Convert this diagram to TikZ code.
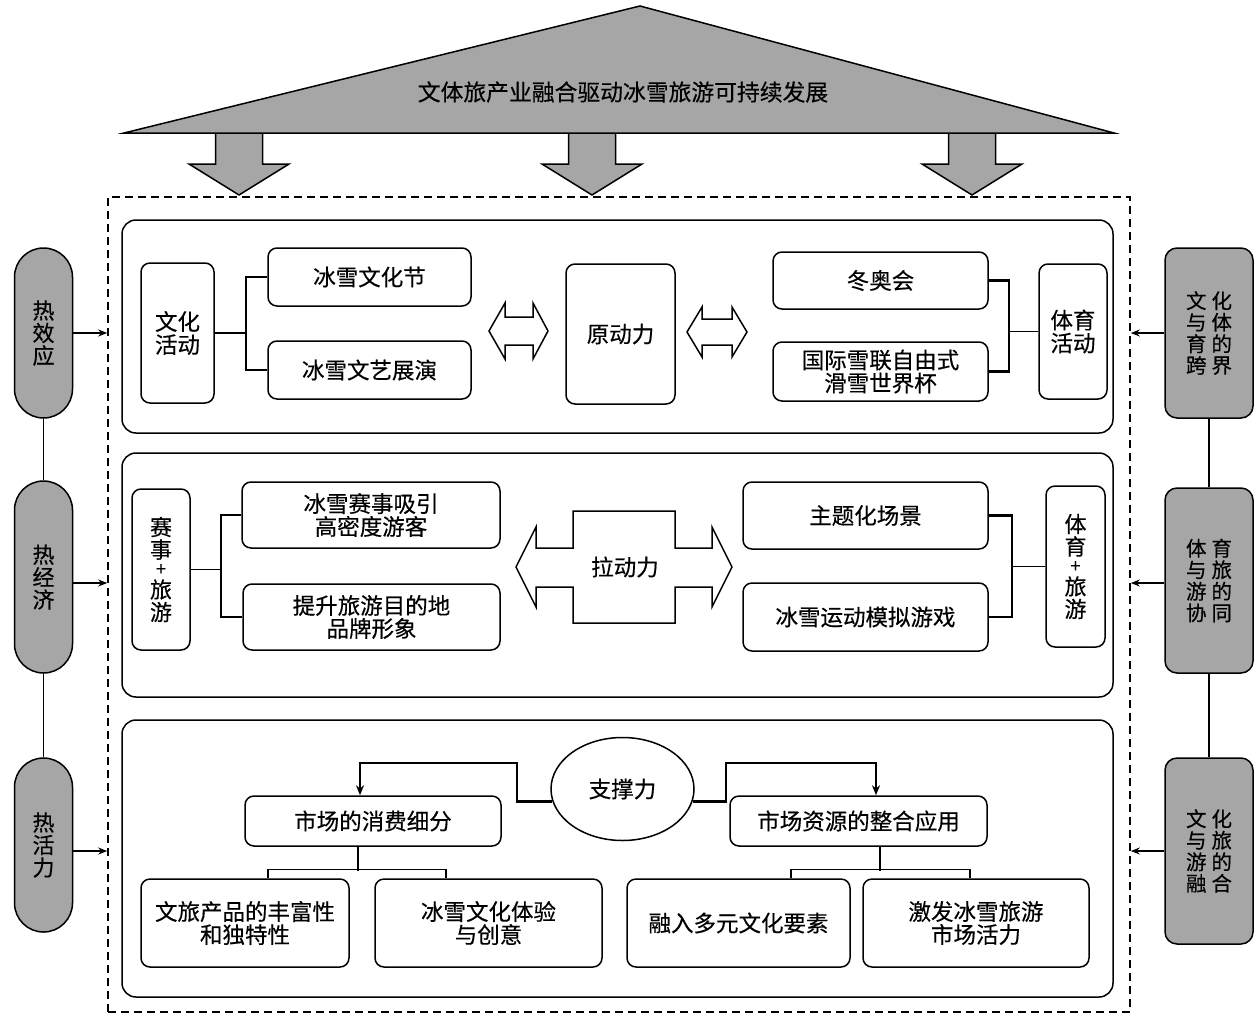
\documentclass[tikz,border=0pt]{standalone}
\usepackage{fontspec}
\setmainfont{Noto Sans CJK SC}[FakeBold=0.35]
\usetikzlibrary{arrows.meta,shapes.geometric}
\definecolor{fillgray}{RGB}{166,166,166}
\newcommand{\plussign}{{\fontsize{18}{18}\selectfont+}}
\begin{document}
\begin{tikzpicture}[x=1pt,y=-1pt,
  every node/.style={font=\fontsize{22.5}{24}\selectfont, align=center, inner sep=0pt},
  two/.style={font=\fontsize{22.5}{23}\selectfont},
  vt/.style={font=\fontsize{22}{22.5}\selectfont},
  bx/.style={draw, line width=1.5pt, rounded corners=9pt, fill=white},
  panel/.style={draw, line width=1.5pt, rounded corners=14pt},
  gbx/.style={draw, line width=1.5pt, fill=fillgray},
  ln/.style={line width=1.5pt},
  brk/.style={line width=2.4pt},
  arr/.style={line width=1.5pt, -{Stealth[length=9pt,width=7pt]}},
  blk/.style={draw, line width=1.5pt, line join=miter},
]
\useasboundingbox (0,0) rectangle (1260,1017);

% ---------- top triangle and block arrows ----------
\foreach \c in {239,592,972}{
  \draw[blk, fill=fillgray] (\c-23.5,133) -- (\c-23.5,164) -- (\c-50,164) -- (\c,195)
     -- (\c+50,164) -- (\c+23.5,164) -- (\c+23.5,133) -- cycle;
}
\draw[blk, fill=fillgray] (124,133) -- (640,6) -- (1114,133) -- cycle;
\node[font=\fontsize{22.8}{24}\selectfont] (title) at (623,92) {文体旅产业融合驱动冰雪旅游可持续发展};

% ---------- outer dashed box ----------
\node[draw, line width=1.6pt, dash pattern=on 8pt off 5pt, minimum width=1022pt, minimum height=815pt] (outer) at (619,604.5) {};

% ---------- panels ----------
\node[panel, minimum width=991pt, minimum height=213pt] (p1) at (617.5,326.5) {};
\node[panel, minimum width=991pt, minimum height=244pt] (p2) at (617.5,575) {};
\node[panel, minimum width=991pt, minimum height=277pt] (p3) at (617.5,858.5) {};

% ---------- panel 1 ----------
\node[bx, two, minimum width=73pt, minimum height=140pt] (whd) at (177.5,333) {文化\\活动};
\node[bx, minimum width=203pt, minimum height=58pt] (b11) at (369.5,277) {冰雪文化节};
\node[bx, minimum width=203pt, minimum height=58pt] (b12) at (369.5,370) {冰雪文艺展演};
\node[bx, minimum width=109pt, minimum height=140pt] (ydl) at (620.5,334) {原动力};
\node[bx, minimum width=215pt, minimum height=57pt] (b13) at (880.5,280.5) {冬奥会};
\node[bx, two, minimum width=215pt, minimum height=59pt] (b14) at (880.5,371.5) {国际雪联自由式\\滑雪世界杯};
\node[bx, two, minimum width=68pt, minimum height=135pt] (tyhd) at (1073,331.5) {体育\\活动};

\coordinate (j1) at (246,333);
\draw[ln] (whd.east) -- (j1);
\draw[brk] (b11.west) -| (j1) |- (b12.west);
\coordinate (j4) at (1009,331.5);
\draw[ln] (tyhd.west) -- (j4);
\draw[brk] (b13.east) -| (j4) |- (b14.east);

% open double arrows
\draw[blk, fill=white] (489,331) -- (505,303) -- (505,317) -- (533,317) -- (533,303) -- (548,331)
  -- (533,359) -- (533,345) -- (505,345) -- (505,359) -- cycle;
\draw[blk, fill=white] (687,332) -- (702,307) -- (702,319) -- (732,319) -- (732,307) -- (747,332)
  -- (732,357) -- (732,345) -- (702,345) -- (702,357) -- cycle;

% ---------- panel 2 ----------
\node[bx, vt, minimum width=58pt, minimum height=161pt] (ssly) at (161,569.5) {赛\\事\\[-5pt]\plussign\\旅\\游};
\node[bx, two, minimum width=258pt, minimum height=66pt] (b21) at (371,515) {冰雪赛事吸引\\高密度游客};
\node[bx, two, minimum width=257pt, minimum height=66pt] (b22) at (371.5,617) {提升旅游目的地\\品牌形象};
\node[bx, minimum width=245pt, minimum height=67pt] (b23) at (865.5,515.5) {主题化场景};
\node[bx, minimum width=245pt, minimum height=68pt] (b24) at (865.5,617) {冰雪运动模拟游戏};
\node[bx, vt, minimum width=59pt, minimum height=161pt] (tyly) at (1075.5,566.5) {体\\育\\[-5pt]\plussign\\旅\\游};

\coordinate (j2) at (221,569.5);
\draw[ln] (ssly.east) -- (j2);
\draw[brk] (b21.west) -| (j2) |- (b22.west);
\coordinate (j3) at (1012,566.5);
\draw[ln] (tyly.west) -- (j3);
\draw[brk] (b23.east) -| (j3) |- (b24.east);

% pulling double arrow
\draw[blk, fill=white] (516,567) -- (536,527) -- (536,548) -- (573,548) -- (573,511) -- (675,511)
  -- (675,548) -- (712,548) -- (712,527) -- (732,567) -- (712,607) -- (712,587) -- (675,587)
  -- (675,623) -- (573,623) -- (573,587) -- (536,587) -- (536,607) -- cycle;
\node (ldl) at (625,567) {拉动力};

% ---------- panel 3 ----------
\node[draw, ellipse, line width=1.5pt, minimum width=143pt, minimum height=103pt] (zcl) at (622.5,789) {支撑力};
\node[bx, minimum width=256pt, minimum height=50pt] (b31) at (373,821) {市场的消费细分};
\node[bx, minimum width=257pt, minimum height=50pt] (b32) at (858.5,821) {市场资源的整合应用};
\node[bx, two, minimum width=208pt, minimum height=88pt] (b33) at (245,923) {文旅产品的丰富性\\和独特性};
\node[bx, two, minimum width=227pt, minimum height=88pt] (b34) at (488.5,923) {冰雪文化体验\\与创意};
\node[bx, minimum width=223pt, minimum height=88pt] (b35) at (738.5,923) {融入多元文化要素};
\node[bx, two, minimum width=226pt, minimum height=88pt] (b36) at (976,923) {激发冰雪旅游\\市场活力};

\coordinate (c1) at (517,763);
\coordinate (c2) at (726,763);
\draw[brk, -{Stealth[length=10pt,width=8pt]}] (zcl.190) -| (c1) -| ([xshift=-13pt]b31.north);
\draw[brk, -{Stealth[length=10pt,width=8pt]}] (zcl.350) -| (c2) -| ([xshift=17.5pt]b32.north);

\draw[ln] ([xshift=-15pt]b31.south) -- ++(0,24);
\draw[ln] ([xshift=23pt]b33.north) -- ++(0,-9) -| ([xshift=-42.5pt]b34.north);
\draw[ln] ([xshift=21.5pt]b32.south) -- ++(0,24);
\draw[ln] ([xshift=52.5pt]b35.north) -- ++(0,-9) -| ([xshift=-6pt]b36.north);

% ---------- left pills ----------
\node[gbx, vt, rounded corners=29pt, minimum width=58pt, minimum height=170pt] (L1) at (43.5,333) {热\\效\\应};
\node[gbx, vt, rounded corners=29pt, minimum width=58pt, minimum height=192pt] (L2) at (43.5,577) {热\\经\\济};
\node[gbx, vt, rounded corners=29pt, minimum width=58pt, minimum height=174pt] (L3) at (43.5,845) {热\\活\\力};
\draw[ln] (L1.south) -- (L2.north);
\draw[ln] (L2.south) -- (L3.north);
\draw[arr] (L1.east) -- (L1.east -| outer.west);
\draw[arr] ([yshift=-6pt]L2.east) -- ([yshift=-6pt]L2.east -| outer.west);
\draw[arr] ([yshift=-6pt]L3.east) -- ([yshift=-6pt]L3.east -| outer.west);

% ---------- right boxes ----------
\tikzset{rt/.style={gbx, rounded corners=12pt, minimum width=88pt, font=\fontsize{20.5}{21.5}\selectfont}}
\node[rt, minimum height=170pt] (R1) at (1209,333) {文\hspace{5pt}化\\与\hspace{5pt}体\\育\hspace{5pt}的\\跨\hspace{5pt}界};
\node[rt, minimum height=185pt] (R2) at (1209,580.5) {体\hspace{5pt}育\\与\hspace{5pt}旅\\游\hspace{5pt}的\\协\hspace{5pt}同};
\node[rt, minimum height=186pt] (R3) at (1209,851) {文\hspace{5pt}化\\与\hspace{5pt}旅\\游\hspace{5pt}的\\融\hspace{5pt}合};
\draw[ln] (R1.south) -- (R2.north);
\draw[ln] (R2.south) -- (R3.north);
\draw[arr] (R1.west) -- (R1.west -| outer.east);
\draw[arr] ([yshift=-2.5pt]R2.west) -- ([yshift=-2.5pt]R2.west -| outer.east);
\draw[arr] (R3.west) -- (R3.west -| outer.east);
\end{tikzpicture}
\end{document}
